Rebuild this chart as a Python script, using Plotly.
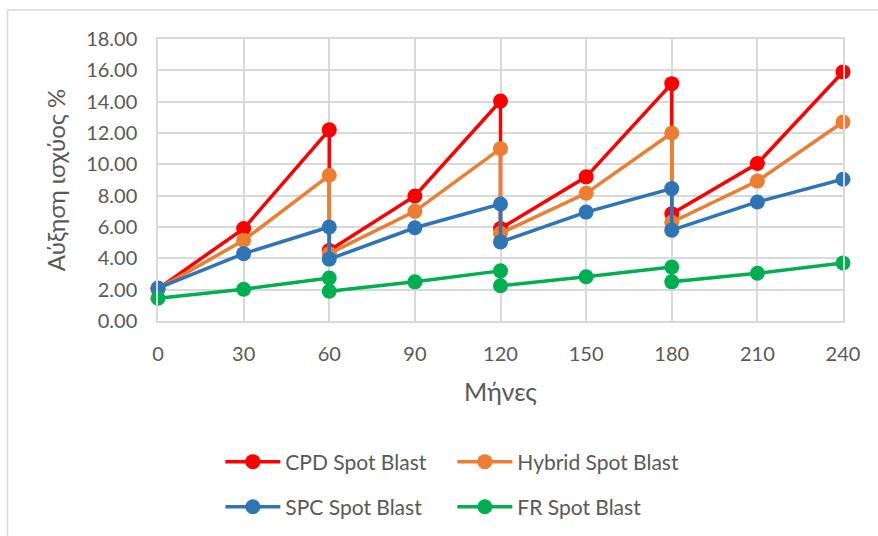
import plotly.graph_objects as go

months = [0, 30, 60, 60, 90, 120, 120, 150, 180, 180, 210, 240]
cpd = [2.05, 5.9, 12.2, 4.5, 7.98, 14.04, 5.9, 9.2, 15.15, 6.85, 10.05, 15.9]
hybrid = [2.05, 5.15, 9.3, 4.3, 7.0, 11.0, 5.6, 8.15, 12.0, 6.3, 8.93, 12.7]
spc = [2.1, 4.3, 6.0, 3.95, 5.95, 7.47, 5.05, 6.95, 8.45, 5.8, 7.6, 9.05]
fr = [1.45, 2.03, 2.74, 1.9, 2.5, 3.2, 2.25, 2.82, 3.45, 2.5, 3.05, 3.7]

series_names = ["CPD Spot Blast", "Hybrid Spot Blast", "SPC Spot Blast", "FR Spot Blast"]
series_vals = [cpd, hybrid, spc, fr]
colors = ["#FF0000", "#ED7D31", "#2E75B6", "#00B050"]
legends = ["legend", "legend", "legend2", "legend2"]

x_ticks = [0, 30, 60, 90, 120, 150, 180, 210, 240]
y_ticks = [0, 2, 4, 6, 8, 10, 12, 14, 16, 18]

FONT = "Lato"
GREY = "#595959"
GRID = "#D9D9D9"

fig = go.Figure()
for name, vals, col, lg in zip(series_names, series_vals, colors, legends):
    fig.add_trace(go.Scatter(
        x=months, y=vals, name=name, mode="lines+markers",
        line=dict(color=col, width=3.5),
        marker=dict(color=col, size=15),
        cliponaxis=False, legend=lg,
    ))

legend_common = dict(
    orientation="h", x=0.091, xanchor="left", yanchor="middle",
    font=dict(size=21, color=GREY, family=FONT),
    entrywidth=162, entrywidthmode="pixels", itemwidth=55,
    bgcolor="rgba(0,0,0,0)",
)

fig.update_layout(
    width=878, height=536,
    margin=dict(l=158, r=35, t=39, b=215, autoexpand=False),
    paper_bgcolor="white", plot_bgcolor="white",
    font=dict(family=FONT, color=GREY, size=20),
    xaxis=dict(
        range=[0, 240], tickvals=x_ticks, ticktext=[str(v) for v in x_ticks],
        showgrid=True, gridcolor=GRID, gridwidth=1.5,
        showline=True, linecolor=GRID, linewidth=1.5, mirror=True,
        zeroline=False, ticks="", ticklabelstandoff=14, automargin=False,
        tickfont=dict(size=20, color=GREY, family=FONT),
        title=dict(text="Μήνες", font=dict(size=25, color=GREY, family=FONT), standoff=20),
    ),
    yaxis=dict(
        range=[0, 18], tickvals=y_ticks, ticktext=[f"{v:.2f}" for v in y_ticks],
        showgrid=True, gridcolor=GRID, gridwidth=1.5,
        showline=True, linecolor=GRID, linewidth=1.5, mirror=True,
        zeroline=False, ticks="", ticklabelstandoff=15, automargin=False,
        tickfont=dict(size=20, color=GREY, family=FONT),
        title=dict(text="Αύξηση ισχύος %", font=dict(size=24, color=GREY, family=FONT), standoff=14),
    ),
    legend=dict(legend_common, y=-0.5),
    legend2=dict(legend_common, y=-0.66),
    showlegend=True,
    shapes=[dict(
        type="rect", xref="paper", yref="paper",
        x0=-0.2197, x1=1.2, y0=-0.9, y1=1.1028,
        line=dict(color=GRID, width=1.5), fillcolor="rgba(0,0,0,0)", layer="below",
    )],
)

fig.write_html("out.html")
